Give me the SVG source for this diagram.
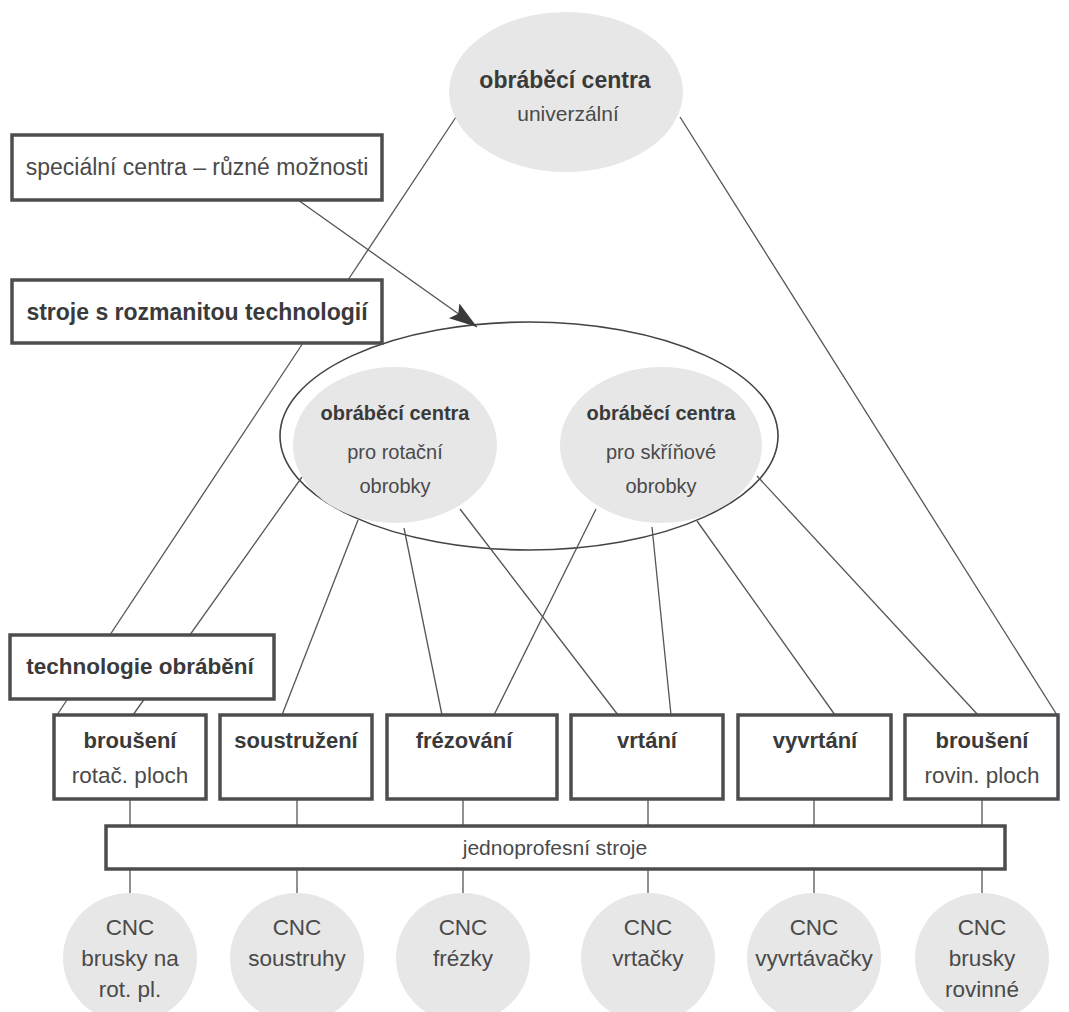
<svg xmlns="http://www.w3.org/2000/svg" width="1069" height="1012" viewBox="0 0 1069 1012">
<defs>
<style>
.t{font-family:"Liberation Sans",Arial,sans-serif;font-size:22.5px;fill:#4a4a4a;text-anchor:middle}
.b{font-weight:bold;fill:#3a3a3a}
.box{fill:#fff;stroke:#4d4d4d;stroke-width:3.5}
.gray{fill:#e7e7e7}
.ln{stroke:#555;stroke-width:1.3;fill:none}
</style>
<marker id="ah" markerUnits="userSpaceOnUse" markerWidth="30" markerHeight="20" refX="28" refY="9" orient="auto">
<path d="M0,0 L28,9 L0,18 L5,9 z" fill="#3a3a3a"/>
</marker>
</defs>
<rect width="1069" height="1012" fill="#fff"/>

<g id="group-ellipse">
<ellipse cx="529" cy="436" rx="249" ry="114" fill="none" stroke="#444" stroke-width="1.6"/>
</g>

<g id="connectors">
<line class="ln" x1="456" y1="117" x2="348" y2="280"/>
<line class="ln" x1="680" y1="117" x2="1057" y2="715"/>
<line class="ln" x1="298" y1="200" x2="477" y2="327" stroke-width="1.6" marker-end="url(#ah)"/>
<line class="ln" x1="303" y1="343" x2="57" y2="715"/>
<line class="ln" x1="302" y1="477" x2="133" y2="715"/>
<line class="ln" x1="358" y1="520" x2="282" y2="715"/>
<line class="ln" x1="404" y1="528" x2="442" y2="715"/>
<line class="ln" x1="460" y1="509" x2="618" y2="715"/>
<line class="ln" x1="596" y1="509" x2="494" y2="715"/>
<line class="ln" x1="652" y1="527" x2="671" y2="715"/>
<line class="ln" x1="697" y1="521" x2="835" y2="715"/>
<line class="ln" x1="757" y1="476" x2="978" y2="715"/>
<line class="ln" x1="130" y1="799" x2="130" y2="826"/>
<line class="ln" x1="297" y1="799" x2="297" y2="826"/>
<line class="ln" x1="463" y1="799" x2="463" y2="826"/>
<line class="ln" x1="648" y1="799" x2="648" y2="826"/>
<line class="ln" x1="814" y1="799" x2="814" y2="826"/>
<line class="ln" x1="982" y1="799" x2="982" y2="826"/>
<line class="ln" x1="130" y1="869" x2="130" y2="893"/>
<line class="ln" x1="297" y1="869" x2="297" y2="893"/>
<line class="ln" x1="463" y1="869" x2="463" y2="893"/>
<line class="ln" x1="648" y1="869" x2="648" y2="893"/>
<line class="ln" x1="814" y1="869" x2="814" y2="893"/>
<line class="ln" x1="982" y1="869" x2="982" y2="893"/>
</g>

<g id="oc-univerzalni">
<ellipse class="gray" cx="566" cy="92" rx="117" ry="80"/>
<text class="t b" x="565" y="88" style="font-size:23px">obráběcí centra</text>
<text class="t" x="568" y="121" style="font-size:21px">univerzální</text>
</g>

<g id="oc-rotacni">
<ellipse class="gray" cx="395" cy="445" rx="102" ry="78"/>
<text class="t b" x="395" y="420" style="font-size:20px">obráběcí centra</text>
<text class="t" x="395" y="459" style="font-size:20px">pro rotační</text>
<text class="t" x="395" y="493" style="font-size:20px">obrobky</text>
</g>

<g id="oc-skrinove">
<ellipse class="gray" cx="661" cy="445" rx="101" ry="78"/>
<text class="t b" x="661" y="420" style="font-size:20px">obráběcí centra</text>
<text class="t" x="661" y="459" style="font-size:20px">pro skříňové</text>
<text class="t" x="661" y="493" style="font-size:20px">obrobky</text>
</g>

<g id="specialni-centra">
<rect class="box" x="12" y="135" width="370" height="65"/>
<text class="t" x="197" y="175" style="font-size:23px">speciální centra – různé možnosti</text>
</g>

<g id="stroje-rozmanita">
<rect class="box" x="12" y="280" width="370" height="63"/>
<text class="t b" x="197" y="320" style="font-size:23px">stroje s rozmanitou technologií</text>
</g>

<g id="technologie-obrabeni">
<rect class="box" x="10" y="635" width="264" height="64"/>
<text class="t b" x="140" y="674">technologie obrábění</text>
</g>

<g id="brouseni-rotac">
<rect class="box" x="54" y="715" width="152" height="84"/>
<text class="t b" x="130" y="748" style="font-size:22px">broušení</text>
<text class="t" x="130" y="783">rotač. ploch</text>
</g>
<g id="soustruzeni">
<rect class="box" x="220" y="715" width="152" height="84"/>
<text class="t b" x="296" y="748" style="font-size:22px">soustružení</text>
</g>
<g id="frezovani">
<rect class="box" x="387" y="715" width="170" height="84"/>
<text class="t b" x="464" y="748" style="font-size:22px">frézování</text>
</g>
<g id="vrtani">
<rect class="box" x="571" y="715" width="152" height="84"/>
<text class="t b" x="647" y="748" style="font-size:22px">vrtání</text>
</g>
<g id="vyvrtani">
<rect class="box" x="738" y="715" width="153" height="84"/>
<text class="t b" x="815" y="748" style="font-size:22px">vyvrtání</text>
</g>
<g id="brouseni-rovin">
<rect class="box" x="905" y="715" width="153" height="84"/>
<text class="t b" x="982" y="748" style="font-size:22px">broušení</text>
<text class="t" x="982" y="783">rovin. ploch</text>
</g>

<g id="jednoprofesni">
<rect class="box" x="106" y="826" width="899" height="43"/>
<text class="t" x="555" y="855" style="font-size:21px">jednoprofesní stroje</text>
</g>

<g id="cnc-brusky-rot">
<ellipse class="gray" cx="130" cy="958" rx="67" ry="65"/>
<text class="t" x="130" y="935">CNC</text>
<text class="t" x="130" y="966">brusky na</text>
<text class="t" x="130" y="997">rot. pl.</text>
</g>
<g id="cnc-soustruhy">
<ellipse class="gray" cx="297" cy="958" rx="67" ry="65"/>
<text class="t" x="297" y="935">CNC</text>
<text class="t" x="297" y="966">soustruhy</text>
</g>
<g id="cnc-frezky">
<ellipse class="gray" cx="463" cy="958" rx="67" ry="65"/>
<text class="t" x="463" y="935">CNC</text>
<text class="t" x="463" y="966">frézky</text>
</g>
<g id="cnc-vrtacky">
<ellipse class="gray" cx="648" cy="958" rx="67" ry="65"/>
<text class="t" x="648" y="935">CNC</text>
<text class="t" x="648" y="966">vrtačky</text>
</g>
<g id="cnc-vyvrtavacky">
<ellipse class="gray" cx="814" cy="958" rx="67" ry="65"/>
<text class="t" x="814" y="935">CNC</text>
<text class="t" x="814" y="966">vyvrtávačky</text>
</g>
<g id="cnc-brusky-rovinne">
<ellipse class="gray" cx="982" cy="958" rx="67" ry="65"/>
<text class="t" x="982" y="935">CNC</text>
<text class="t" x="982" y="966">brusky</text>
<text class="t" x="982" y="997">rovinné</text>
</g>
</svg>
